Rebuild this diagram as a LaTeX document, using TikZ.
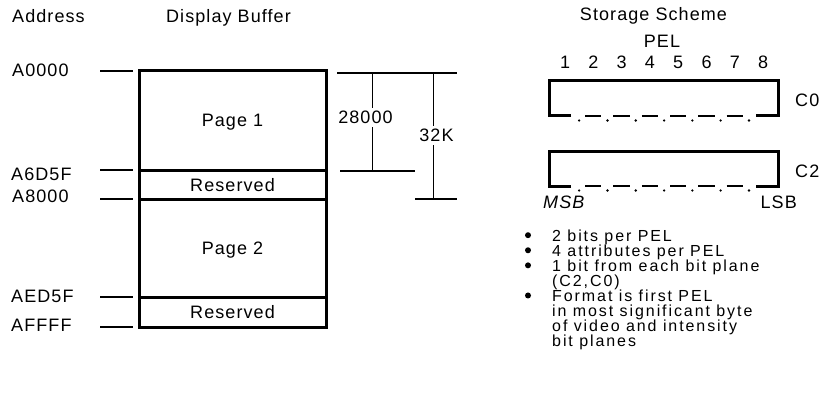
\documentclass[tikz,border=0pt]{standalone}
\usepackage{fontspec}
\setmainfont{Liberation Sans}[LetterSpace=6]
\usetikzlibrary{positioning}

\tikzset{
  txt/.style={font=\fontsize{18}{18}\selectfont, inner sep=0pt},
  addr/.style={txt, anchor=base west},
  head/.style={txt, anchor=base},
  cell/.style={txt, draw, line width=3pt, outer sep=0pt, minimum width=187pt, text height=13pt, text depth=0pt},
  tick/.style={line width=1.7pt},
  dimh/.style={line width=1.8pt},
  dimv/.style={line width=1pt},
  plane/.style={line width=3pt},
  note/.style={inner sep=0pt, anchor=base west, font=\fontsize{16}{16}\selectfont\addfontfeatures{LetterSpace=12}},
}

\begin{document}
\begin{tikzpicture}[x=1pt, y=-1pt]
\useasboundingbox (0,0) rectangle (832,409);

% headings
\node[addr] (hdaddr) at (12,23) {Address};
\node[head] (hdbuf) at (228.5,23) {Display Buffer};
\node[head] (hdstore) at (653.5,21) {Storage Scheme};
\node[head] (hdpel) at (662,48) {PEL};

% display buffer
\node[cell, minimum height=99pt, anchor=north] (page1) at (232.5,71) {Page 1};
\node[cell, minimum height=29pt, below=0pt of page1] (resv1) {Reserved};
\node[cell, minimum height=98pt, below=0pt of resv1] (page2) {Page 2};
\node[cell, minimum height=30pt, below=0pt of page2] (resv2) {Reserved};

\foreach \c in {page1.north west, resv1.north west, page2.north west, resv2.north west, resv2.south west}
  \draw[tick] ([xshift=-39pt]\c) -- ([xshift=-6pt]\c);

\node[addr] (a0000) at (12,77) {A0000};
\node[addr] (a6d5f) at (11,180) {A6D5F};
\node[addr] (a8000) at (12,202) {A8000};
\node[addr] (aed5f) at (11,302) {AED5F};
\node[addr] (affff) at (11,331) {AFFFF};

% lengths
\draw[dimh] (337,73) -- (457,73);
\draw[dimh] (340,171) -- (415,171);
\draw[dimh] (415,199) -- (457,199);
\draw[dimv] (372,73) -- (372,171);
\draw[dimv] (433,73) -- (433,199);
\node[head, fill=white, inner ysep=3pt] (len28) at (365.5,124) {28000};
\node[head, fill=white, inner ysep=3pt] (len32) at (436.5,142) {32K};

% bit planes
\foreach \i in {1,...,8}
  \node[head] (pel\i) at ({565+28.3*(\i-1)},69) {\i};

\foreach \ytop/\nm in {81/C0, 151/C2} {
  \draw[plane] (571,\ytop+35) -- (549,\ytop+35) -- (549,\ytop) -- (778,\ytop) -- (778,\ytop+35) -- (756,\ytop+35);
  \foreach \k in {1,...,6}
    \draw[plane, line width=2.5pt] ({579.15+28.3*(\k-1)+6},\ytop+35) -- ({579.15+28.3*\k-6},\ytop+35);
  \foreach \k in {1,...,7}
    \fill ({579.15+28.3*(\k-1)},\ytop+39.5) circle (1.3pt);
  \node[addr] (lab\nm) at (795,\ytop+26) {\nm};
}

\node[addr, font=\fontsize{18}{18}\selectfont\itshape] (msb) at (543,208) {MSB};
\node[txt, anchor=base east] (lsb) at (797,208) {LSB};

% notes
\foreach \txt [count=\i] in {2 bits per PEL, 4 attributes per PEL, 1 bit from each bit plane, {(C2,C0)}, Format is first PEL, in most significant byte, of video and intensity, bit planes}
  \node[note] (note\i) at (552,{241+15.07*(\i-1)}) {\txt};
\foreach \i in {1,2,3,5}
  \fill ([xshift=-24pt,yshift=5.8pt]note\i.base west) circle (3pt);

\end{tikzpicture}
\end{document}
